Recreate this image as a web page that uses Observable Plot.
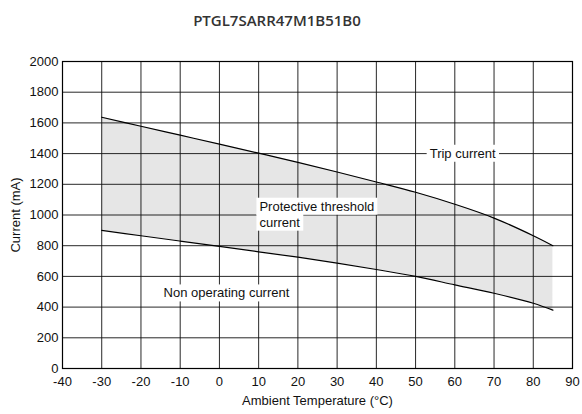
<!DOCTYPE html>
<html>
<head>
<meta charset="utf-8">
<script src="https://cdn.jsdelivr.net/npm/d3@7"></script>
<script src="https://cdn.jsdelivr.net/npm/@observablehq/plot@0.6"></script>
<style>
  body { margin: 0; background: #fff; }
  #title { width: 554px; height: 40px; line-height: 40px; text-align: center;
           font-family: "Open Sans", sans-serif; font-weight: 600; font-size: 15px; color: #333; }
</style>
</head>
<body>
<div id="title">PTGL7SARR47M1B51B0</div>
<div id="chart"></div>
<script>
const temps   = [-30, -20, -10, 0, 10, 20, 30, 40, 50, 60, 70, 80, 85];
const trip    = [1637, 1578, 1520, 1462, 1403, 1343, 1280, 1215, 1148, 1070, 980, 865, 800];
const nonOp   = [900, 865, 830, 795, 760, 725, 687, 645, 600, 545, 490, 425, 380];
const xTicks  = d3.range(-40, 91, 10);
const yTicks  = d3.range(0, 2001, 200);
const centeredLabels = [
  {t: 62, v: 1400, text: "Trip current"},
  {t: 1.8,  v: 490,  text: "Non operating current"}
];
const startLabels = [
  {t: 10.2, v: 1055, text: "Protective threshold"},
  {t: 10.2, v: 951,  text: "current"}
];

const rows = temps.map((t, i) => ({t, trip: trip[i], nonOp: nonOp[i]}));

const chart = Plot.plot({
  width: 582,
  height: 374,
  marginTop: 21,
  marginBottom: 46,
  marginLeft: 62,
  marginRight: 10,
  style: {fontFamily: "'Liberation Sans', Arial, sans-serif", fontSize: "13px", color: "#111", background: "#fff"},
  x: {domain: [-40, 90]},
  y: {domain: [0, 2000]},
  marks: [
    Plot.areaY(rows, {x: "t", y1: "nonOp", y2: "trip", fill: "#e6e6e6", curve: "catmull-rom"}),
    Plot.gridX(xTicks, {stroke: "#111", strokeOpacity: 0.9}),
    Plot.gridY(yTicks, {stroke: "#111", strokeOpacity: 0.9}),
    Plot.axisX(xTicks, {tickSize: 0, tickPadding: 8, tickFormat: d => String(d), label: "Ambient Temperature (°C)", labelAnchor: "center", labelArrow: "none", labelOffset: 36, fontSize: 13}),
    Plot.axisY(yTicks, {tickSize: 0, tickPadding: 4, tickFormat: d => String(d), label: "Current (mA)", labelAnchor: "center", labelArrow: "none", labelOffset: 52, fontSize: 13}),
    Plot.line(rows, {x: "t", y: "trip", stroke: "#000", strokeWidth: 1.2, curve: "catmull-rom"}),
    Plot.line(rows, {x: "t", y: "nonOp", stroke: "#000", strokeWidth: 1.2, curve: "catmull-rom"}),
    Plot.frame({stroke: "#000", strokeWidth: 1.2}),
    Plot.text(centeredLabels, {x: "t", y: "v", text: "text", textAnchor: "middle", fill: "#111", fontSize: 13}),
    Plot.text(startLabels, {x: "t", y: "v", text: "text", textAnchor: "start", fill: "#111", fontSize: 13})
  ]
});
document.getElementById("chart").appendChild(chart);

// white boxes behind annotation labels
chart.querySelectorAll('g[aria-label="text"] text').forEach(el => {
  const b = el.getBBox();
  const r = document.createElementNS("http://www.w3.org/2000/svg", "rect");
  r.setAttribute("x", b.x - 3);
  r.setAttribute("y", b.y - 1);
  r.setAttribute("width", b.width + 6);
  r.setAttribute("height", b.height + 2);
  r.setAttribute("fill", "#fff");
  r.setAttribute("stroke", "none");
  const tr = el.getAttribute("transform");
  if (tr) r.setAttribute("transform", tr);
  el.parentNode.insertBefore(r, el);
});
</script>
</body>
</html>
